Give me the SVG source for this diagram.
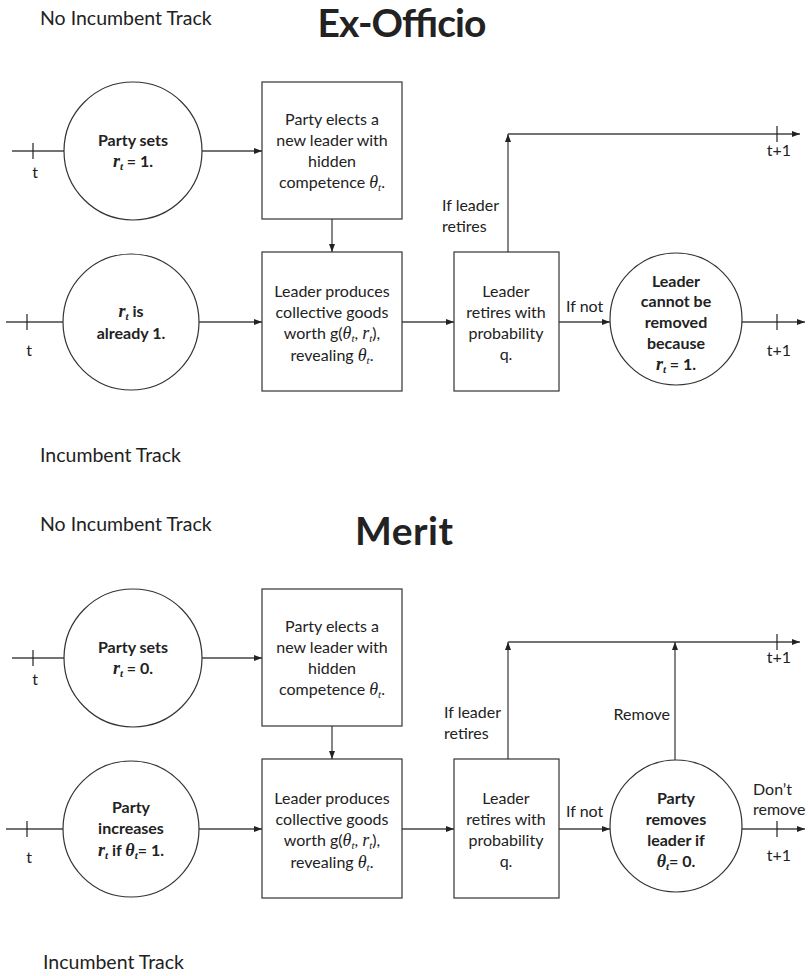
<svg xmlns="http://www.w3.org/2000/svg" width="808" height="976" viewBox="0 0 808 976">
<defs>
<marker id="arr" viewBox="0 0 8 6" refX="8" refY="3" markerWidth="8" markerHeight="6" markerUnits="userSpaceOnUse" orient="auto">
<path d="M0,0 L8,3 L0,6 z" fill="#222"/>
</marker>
</defs>
<style>
.ln{stroke:#444;stroke-width:1.3;fill:none}
.ar{stroke:#444;stroke-width:1.3;fill:none;marker-end:url(#arr)}
.tk{stroke:#222;stroke-width:1.2}
.sh{stroke:#333;stroke-width:1.2;fill:#fff}
text{font-family:Lato,"Open Sans",sans-serif;fill:#222}
.b{font-size:16px;text-anchor:middle}
.c{font-size:16px;font-weight:bold;text-anchor:middle}
.l{font-size:16px}
.hd{font-size:19.5px}
.tt{font-size:39px;font-weight:bold;text-anchor:middle}
.m{font-family:"Liberation Serif",serif;font-style:italic;font-size:18px}
.s{font-family:"Liberation Serif",serif;font-style:italic;font-size:11px}
</style>
<rect width="808" height="976" fill="#fff"/>

<!-- Headings -->
<text class="hd" x="40" y="25">No Incumbent Track</text>
<text class="tt" x="402" y="37" textLength="169">Ex-Officio</text>
<text class="hd" x="40" y="462">Incumbent Track</text>
<text class="hd" x="40" y="531">No Incumbent Track</text>
<text class="tt" x="404" y="545" textLength="98">Merit</text>
<text class="hd" x="43" y="969">Incumbent Track</text>

<!-- Connectors -->
<g id="connectors">
<!-- Ex-Officio -->
<line class="ln" x1="12" y1="151" x2="64" y2="151"/>
<line class="tk" x1="33" y1="143" x2="33" y2="159"/>
<text class="l" x="35" y="178" text-anchor="middle">t</text>
<line class="ar" x1="202" y1="151" x2="262" y2="151"/>
<line class="ar" x1="332" y1="219" x2="332" y2="252"/>
<line class="ln" x1="6" y1="322" x2="64" y2="322"/>
<line class="tk" x1="27" y1="314" x2="27" y2="330"/>
<text class="l" x="29" y="356" text-anchor="middle">t</text>
<line class="ar" x1="198" y1="322" x2="262" y2="322"/>
<line class="ar" x1="402" y1="322" x2="454" y2="322"/>
<line class="ar" x1="508" y1="252" x2="508" y2="134"/>
<line class="ar" x1="508" y1="134" x2="800" y2="134"/>
<line class="tk" x1="777" y1="126" x2="777" y2="142"/>
<text class="l" x="779" y="156" text-anchor="middle">t+1</text>
<text class="l" x="442" y="211">If leader</text>
<text class="l" x="442" y="232">retires</text>
<line class="ar" x1="559" y1="322" x2="610" y2="322"/>
<text class="l" x="566" y="312">If not</text>
<line class="ar" x1="742" y1="322" x2="805" y2="322"/>
<line class="tk" x1="777" y1="314" x2="777" y2="330"/>
<text class="l" x="779" y="356" text-anchor="middle">t+1</text>

<!-- Merit -->
<line class="ln" x1="12" y1="658" x2="64" y2="658"/>
<line class="tk" x1="33" y1="650" x2="33" y2="666"/>
<text class="l" x="35" y="685" text-anchor="middle">t</text>
<line class="ar" x1="202" y1="658" x2="262" y2="658"/>
<line class="ar" x1="332" y1="726" x2="332" y2="759"/>
<line class="ln" x1="6" y1="829" x2="64" y2="829"/>
<line class="tk" x1="27" y1="821" x2="27" y2="837"/>
<text class="l" x="29" y="863" text-anchor="middle">t</text>
<line class="ar" x1="198" y1="829" x2="262" y2="829"/>
<line class="ar" x1="402" y1="829" x2="454" y2="829"/>
<line class="ar" x1="508" y1="759" x2="508" y2="642"/>
<line class="ar" x1="508" y1="642" x2="800" y2="642"/>
<line class="ar" x1="675" y1="760" x2="675" y2="642"/>
<line class="tk" x1="777" y1="634" x2="777" y2="650"/>
<text class="l" x="779" y="663" text-anchor="middle">t+1</text>
<text class="l" x="444" y="718">If leader</text>
<text class="l" x="444" y="739">retires</text>
<text class="l" x="670" y="720" text-anchor="end">Remove</text>
<line class="ar" x1="559" y1="829" x2="610" y2="829"/>
<text class="l" x="566" y="817">If not</text>
<line class="ar" x1="742" y1="829" x2="805" y2="829"/>
<line class="tk" x1="777" y1="821" x2="777" y2="837"/>
<text class="l" x="779" y="861" text-anchor="middle">t+1</text>
<text class="l" x="753" y="795">Don’t</text>
<text class="l" x="753" y="815">remove</text>
</g>

<!-- Ex-Officio nodes -->
<g id="eo-set">
<circle class="sh" cx="133" cy="151" r="69"/>
<text class="c" x="133" y="146">Party sets</text>
<text class="c" x="133" y="167"><tspan class="m">r</tspan><tspan class="s" dy="3">t</tspan><tspan dy="-3"> = 1.</tspan></text>
</g>
<g id="eo-elect">
<rect class="sh" x="262" y="82" width="140" height="137"/>
<text class="b" x="332" y="125">Party elects a</text>
<text class="b" x="332" y="146">new leader with</text>
<text class="b" x="332" y="167">hidden</text>
<text class="b" x="332" y="188">competence <tspan class="m">θ</tspan><tspan class="s" dy="3">t</tspan><tspan dy="-3">.</tspan></text>
</g>
<g id="eo-already">
<circle class="sh" cx="131" cy="322" r="68"/>
<text class="c" x="131" y="317"><tspan class="m">r</tspan><tspan class="s" dy="3">t</tspan><tspan dy="-3"> is</tspan></text>
<text class="c" x="131" y="339">already 1.</text>
</g>
<g id="eo-produce">
<rect class="sh" x="262" y="252" width="140" height="139"/>
<text class="b" x="332" y="297">Leader produces</text>
<text class="b" x="332" y="318">collective goods</text>
<text class="b" x="332" y="339">worth g(<tspan class="m">θ</tspan><tspan class="s" dy="3">t</tspan><tspan dy="-3">, </tspan><tspan class="m">r</tspan><tspan class="s" dy="3">t</tspan><tspan dy="-3">),</tspan></text>
<text class="b" x="332" y="361">revealing <tspan class="m">θ</tspan><tspan class="s" dy="3">t</tspan><tspan dy="-3">.</tspan></text>
</g>
<g id="eo-retire">
<rect class="sh" x="454" y="252" width="105" height="139"/>
<text class="b" x="506" y="297">Leader</text>
<text class="b" x="506" y="318">retires with</text>
<text class="b" x="506" y="339">probability</text>
<text class="b" x="506" y="360">q.</text>
</g>
<g id="eo-cannot">
<circle class="sh" cx="676" cy="319" r="66"/>
<text class="c" x="676" y="287">Leader</text>
<text class="c" x="676" y="307">cannot be</text>
<text class="c" x="676" y="328">removed</text>
<text class="c" x="676" y="349">because</text>
<text class="c" x="676" y="370"><tspan class="m">r</tspan><tspan class="s" dy="3">t</tspan><tspan dy="-3"> = 1.</tspan></text>
</g>

<!-- Merit nodes -->
<g id="m-set">
<circle class="sh" cx="133" cy="658" r="69"/>
<text class="c" x="133" y="653">Party sets</text>
<text class="c" x="133" y="674"><tspan class="m">r</tspan><tspan class="s" dy="3">t</tspan><tspan dy="-3"> = 0.</tspan></text>
</g>
<g id="m-elect">
<rect class="sh" x="262" y="589" width="140" height="137"/>
<text class="b" x="332" y="632">Party elects a</text>
<text class="b" x="332" y="653">new leader with</text>
<text class="b" x="332" y="674">hidden</text>
<text class="b" x="332" y="695">competence <tspan class="m">θ</tspan><tspan class="s" dy="3">t</tspan><tspan dy="-3">.</tspan></text>
</g>
<g id="m-increase">
<circle class="sh" cx="131" cy="829" r="68"/>
<text class="c" x="131" y="813">Party</text>
<text class="c" x="131" y="834">increases</text>
<text class="c" x="131" y="856"><tspan class="m">r</tspan><tspan class="s" dy="3">t</tspan><tspan dy="-3"> if </tspan><tspan class="m">θ</tspan><tspan class="s" dy="3">t</tspan><tspan dy="-3">= 1.</tspan></text>
</g>
<g id="m-produce">
<rect class="sh" x="262" y="759" width="140" height="139"/>
<text class="b" x="332" y="804">Leader produces</text>
<text class="b" x="332" y="825">collective goods</text>
<text class="b" x="332" y="846">worth g(<tspan class="m">θ</tspan><tspan class="s" dy="3">t</tspan><tspan dy="-3">, </tspan><tspan class="m">r</tspan><tspan class="s" dy="3">t</tspan><tspan dy="-3">),</tspan></text>
<text class="b" x="332" y="868">revealing <tspan class="m">θ</tspan><tspan class="s" dy="3">t</tspan><tspan dy="-3">.</tspan></text>
</g>
<g id="m-retire">
<rect class="sh" x="454" y="759" width="105" height="139"/>
<text class="b" x="506" y="804">Leader</text>
<text class="b" x="506" y="825">retires with</text>
<text class="b" x="506" y="846">probability</text>
<text class="b" x="506" y="867">q.</text>
</g>
<g id="m-remove">
<circle class="sh" cx="676" cy="826" r="66"/>
<text class="c" x="676" y="804">Party</text>
<text class="c" x="676" y="825">removes</text>
<text class="c" x="676" y="846">leader if</text>
<text class="c" x="676" y="867"><tspan class="m">θ</tspan><tspan class="s" dy="3">t</tspan><tspan dy="-3">= 0.</tspan></text>
</g>
</svg>
